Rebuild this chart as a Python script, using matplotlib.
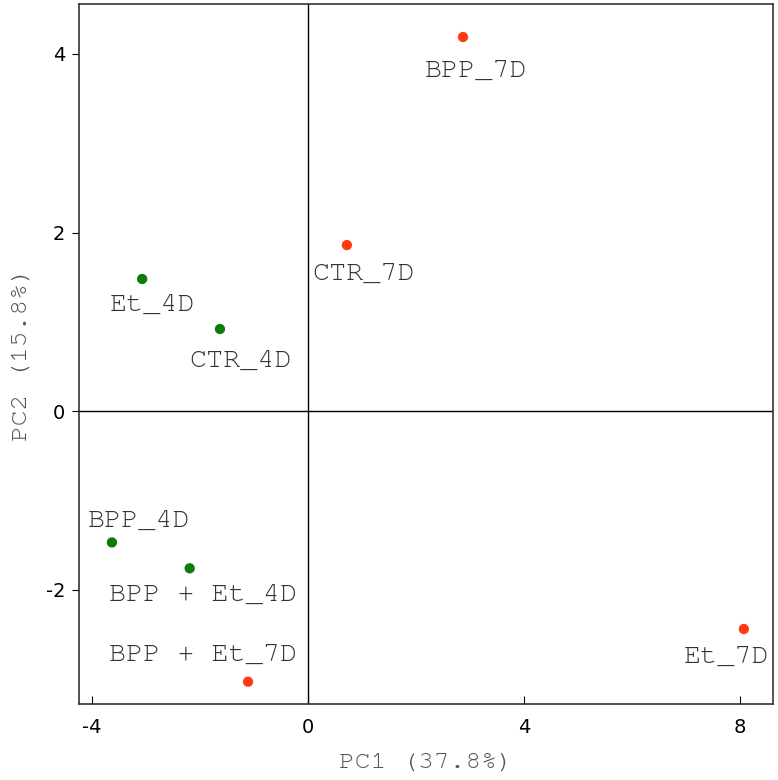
import numpy as np
import matplotlib
matplotlib.use("Agg")
import matplotlib.pyplot as plt
from matplotlib import font_manager

plt.rcParams['axes.unicode_minus'] = False

# PCA scores
samples = ["BPP_7D", "CTR_7D", "Et_4D", "CTR_4D", "BPP_4D",
           "BPP + Et_4D", "BPP + Et_7D", "Et_7D"]
pc1 = [2.87, 0.72, -3.07, -1.63, -3.63, -2.19, -1.11, 8.07]
pc2 = [4.19, 1.86, 1.48, 0.92, -1.47, -1.76, -3.03, -2.44]
day = ["7D", "7D", "4D", "4D", "4D", "4D", "7D", "7D"]

colors = {"4D": "#0a7d0a", "7D": "#ff3b14"}
# label offsets in pixels (repel-style placement)
offsets = [(13, -34), (17, -29), (10, -26), (21, -32), (27, 22),
           (13, -27), (-45, 27), (-17, -28)]

names = {f.name for f in font_manager.fontManager.ttflist}
mono = [f for f in ["Courier New", "Nimbus Mono PS", "FreeMono", "Courier",
                    "Liberation Mono"] if f in names] or ["DejaVu Sans Mono"]
mono = mono[0]

fig = plt.figure(figsize=(7.78, 7.80), dpi=100)
ax = fig.add_axes([0.1015, 0.0974, 0.8921, 0.8975])

ax.axhline(0, color="black", lw=1, zorder=1)
ax.axvline(0, color="black", lw=1, zorder=1)

for x, y, d in zip(pc1, pc2, day):
    ax.scatter(x, y, s=55, color=colors[d], edgecolors="none", zorder=3)

for name, x, y, off in zip(samples, pc1, pc2, offsets):
    ax.annotate(name, (x, y), xytext=off, textcoords="offset pixels",
                ha="center", va="center", family=mono,
                fontsize=20.5, color="#333333")

ax.set_xlim(-4.24, 8.61)
ax.set_ylim(-3.28, 4.56)
ax.set_xticks([-4, 0, 4, 8])
ax.set_yticks([-2, 0, 2, 4])
ax.tick_params(axis="x", direction="in", length=6, labelsize=14, pad=10)
ax.tick_params(axis="y", direction="out", length=5, labelsize=14, pad=5)
for s in ax.spines.values():
    s.set_color("#333333")
    s.set_linewidth(1.2)

ax.set_xlabel("PC1 (37.8%)", family=mono, fontsize=19,
              color="#555555", labelpad=11)
ax.set_ylabel("PC2 (15.8%)", family=mono, fontsize=19,
              color="#555555", labelpad=10)

fig.savefig("out.png", dpi=100)
